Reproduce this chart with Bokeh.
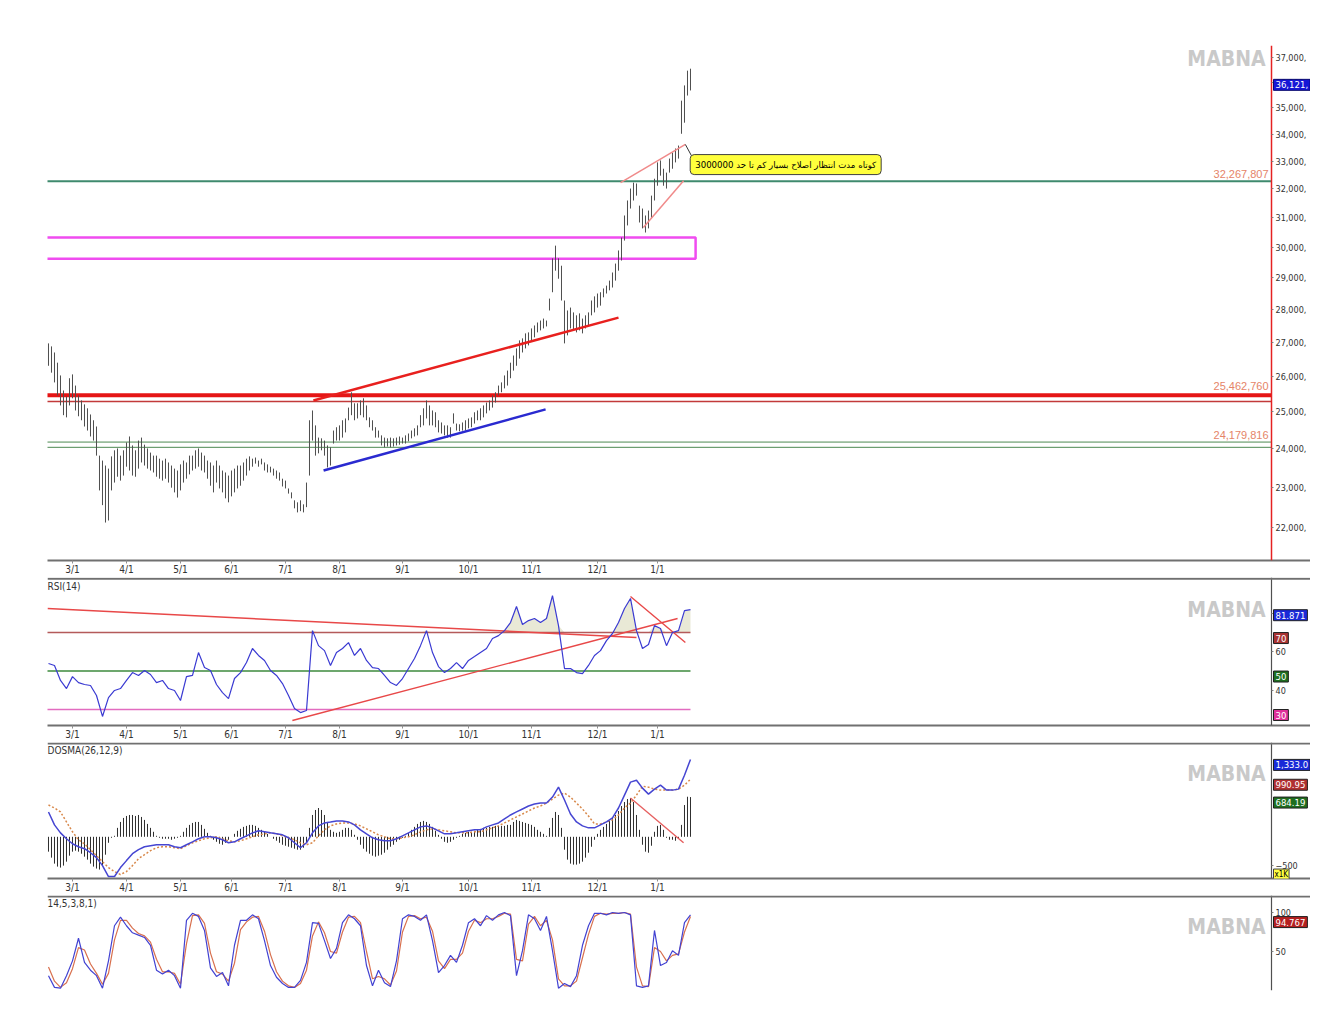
import numpy as np
from bokeh.plotting import figure
from bokeh.models import (Range1d, FixedTicker, Span, Label, CustomJSTickFormatter,
                          LinearAxis, LogAxis)
from bokeh.layouts import column
from bokeh.embed import file_html
from bokeh.resources import INLINE

# ---------------- data ----------------
month_ticks = [8, 26, 44, 61, 79, 97, 118, 140, 161, 183, 203]
month_labels = ["3/1", "4/1", "5/1", "6/1", "7/1", "8/1", "9/1", "10/1", "11/1", "12/1", "1/1"]

# daily bar highs / lows, in millions
price_high = [
    26.97, 26.88, 26.70, 26.40, 26.03, 25.60, 25.43, 25.95, 26.06, 25.74,
    25.46, 25.32, 25.21, 25.10, 24.93, 24.77, 24.60, 23.82, 23.69, 23.56,
    23.48, 23.80, 23.96, 24.01, 23.82, 23.96, 24.17, 24.33, 24.09, 23.96,
    24.22, 24.30, 24.11, 24.01, 23.90, 23.82, 23.82, 23.74, 23.69, 23.74,
    23.64, 23.56, 23.48, 23.43, 23.59, 23.69, 23.64, 23.82, 23.82, 23.96,
    24.01, 23.90, 23.82, 23.69, 23.64, 23.56, 23.69, 23.56, 23.43, 23.38,
    23.30, 23.43, 23.48, 23.56, 23.56, 23.64, 23.74, 23.80, 23.74, 23.77,
    23.69, 23.74, 23.64, 23.59, 23.53, 23.48, 23.43, 23.38, 23.22, 23.17,
    22.97, 22.87, 22.67, 22.62, 22.67, 22.57, 23.12, 24.77, 25.04, 24.63,
    24.30, 24.28, 24.22, 24.09, 24.04, 24.49, 24.58, 24.63, 24.77, 24.82,
    25.12, 25.55, 25.24, 25.24, 25.32, 25.38, 25.18, 24.85, 24.77, 24.58,
    24.49, 24.36, 24.30, 24.28, 24.30, 24.28, 24.30, 24.33, 24.30, 24.36,
    24.41, 24.49, 24.55, 24.63, 24.91, 25.10, 25.32, 25.18, 25.04, 24.99,
    24.77, 24.71, 24.63, 24.63, 24.58, 24.96, 24.68, 24.66, 24.71, 24.77,
    24.82, 24.85, 24.99, 25.04, 25.10, 25.18, 25.26, 25.32, 25.46, 25.55,
    25.74, 25.83, 26.03, 26.17, 26.40, 26.61, 26.82, 27.06, 27.12, 27.27,
    27.30, 27.42, 27.51, 27.60, 27.66, 27.72, 27.66, 28.34, 29.63, 30.05,
    29.63, 29.39, 28.28, 27.97, 28.06, 27.91, 27.82, 27.88, 27.72, 27.82,
    27.91, 28.28, 28.41, 28.50, 28.54, 28.66, 28.75, 28.91, 29.17, 29.46,
    29.89, 30.32, 31.07, 31.59, 32.01, 32.22, 32.19, 31.41, 31.31, 31.07,
    31.24, 31.76, 32.36, 32.95, 33.02, 32.72, 32.58, 33.09, 33.31, 33.46,
    33.57, 35.28, 35.88, 36.47, 36.55]
price_low = [
    26.31, 26.11, 25.83, 25.46, 25.18, 24.91, 24.85, 25.18, 25.38, 25.04,
    24.88, 24.77, 24.60, 24.49, 24.33, 24.22, 23.82, 22.92, 22.55, 22.12,
    22.17, 22.92, 23.12, 23.27, 23.17, 23.30, 23.53, 23.43, 23.30, 23.27,
    23.48, 23.64, 23.56, 23.48, 23.43, 23.38, 23.27, 23.22, 23.17, 23.22,
    23.12, 22.99, 22.87, 22.74, 22.92, 23.12, 23.22, 23.33, 23.43, 23.48,
    23.53, 23.43, 23.38, 23.22, 23.04, 22.87, 23.12, 22.97, 22.87, 22.72,
    22.62, 22.77, 22.87, 22.97, 23.04, 23.17, 23.30, 23.43, 23.53, 23.61,
    23.53, 23.59, 23.43, 23.38, 23.38, 23.30, 23.22, 23.17, 23.02, 22.97,
    22.84, 22.72, 22.47, 22.37, 22.40, 22.37, 22.50, 23.30, 24.22, 23.82,
    23.88, 23.96, 23.82, 23.51, 23.56, 24.14, 24.22, 24.22, 24.30, 24.44,
    24.77, 24.91, 24.77, 24.82, 24.91, 24.85, 24.77, 24.58, 24.49, 24.30,
    24.30, 24.09, 24.04, 24.06, 24.04, 24.06, 24.09, 24.11, 24.14, 24.14,
    24.20, 24.28, 24.33, 24.36, 24.58, 24.63, 24.82, 24.63, 24.63, 24.58,
    24.44, 24.41, 24.36, 24.30, 24.30, 24.68, 24.49, 24.47, 24.49, 24.49,
    24.55, 24.58, 24.68, 24.77, 24.77, 24.85, 24.96, 25.04, 25.12, 25.26,
    25.46, 25.55, 25.66, 25.74, 25.95, 26.17, 26.31, 26.52, 26.70, 26.82,
    26.91, 27.06, 27.15, 27.30, 27.36, 27.42, 27.48, 27.97, 28.54, 29.23,
    28.97, 28.28, 26.97, 27.21, 27.42, 27.36, 27.30, 27.36, 27.27, 27.42,
    27.51, 27.82, 27.91, 28.06, 28.12, 28.38, 28.50, 28.60, 28.69, 28.91,
    29.23, 29.56, 30.22, 30.73, 31.31, 31.59, 31.76, 30.83, 30.63, 30.49,
    30.63, 30.97, 31.59, 32.11, 32.47, 32.11, 32.01, 32.58, 32.72, 32.95,
    33.09, 34.01, 34.43, 35.48, 35.68]
last_price = 36.121

# horizontal levels and drawn objects on the price chart (millions)
level_resist = 32.267807
level_red = 25.462760
level_red_thin = 25.29
level_green_a = 24.179816
level_green_b = 24.04
zone_lo, zone_hi, zone_right = 29.62, 30.32, 215.7
red_trend = (88.3, 25.32, 190.0, 27.75)
blue_trend = (91.7, 23.43, 165.7, 25.07)
wedge_up = (190.7, 32.22, 212.3, 33.61)
wedge_lo = (198.3, 30.66, 211.7, 32.29)
note_text = "کوتاه مدت انتظار اصلاح بسیار کم تا حد 3000000"

# RSI(14), every second bar
rsi = [53.9, 52.9, 45.1, 40.9, 47.1, 44.0, 43.0, 42.5, 37.3, 26.4,
       36.2, 39.9, 40.9, 45.1, 49.2, 47.7, 50.3, 48.2, 44.0, 45.1,
       40.9, 39.9, 34.7, 47.1, 47.7, 59.6, 51.8, 50.3, 43.0, 38.8,
       35.7, 46.1, 49.2, 54.4, 61.7, 58.1, 55.5, 50.3, 47.7, 43.5,
       37.3, 30.5, 28.4, 29.5, 71.0, 63.2, 60.6, 52.9, 59.6, 61.7,
       64.8, 58.1, 61.7, 55.5, 51.8, 51.3, 47.7, 44.0, 42.5, 46.1,
       51.3, 56.5, 63.2, 71.0, 59.6, 52.3, 49.2, 51.3, 54.4, 51.3,
       55.5, 57.5, 59.6, 61.7, 66.9, 68.4, 71.0, 75.2, 83.5, 74.2,
       76.2, 77.3, 75.2, 77.3, 89.2, 73.6, 51.3, 51.3, 49.2, 48.7,
       52.9, 58.1, 60.6, 65.8, 69.5, 75.2, 82.5, 87.7, 71.0, 61.7,
       63.8, 73.6, 72.1, 63.2, 70.0, 71.0, 81.4, 81.871]
rsi_down = (-0.33, 82.5, 196.0, 67.4)
rsi_up = (81.3, 24.3, 209.7, 77.3)
rsi_down2 = (194.0, 88.7, 212.3, 64.8)

# DOSMA(26,12,9) in thousands
dosma_fast = [428, 205, 68, -34, -120, -171, -205, -274, -359, -496,
              -684, -684, -530, -410, -291, -222, -171, -154, -137, -137,
              -137, -171, -188, -137, -86, -34, 0, 0, -17, -51,
              -103, -86, -34, 17, 68, 103, 86, 68, 51, 34,
              -17, -103, -188, -103, 68, 188, 239, 256, 274, 274,
              256, 205, 120, 51, -17, -51, -68, -68, -34, 17,
              68, 120, 171, 188, 154, 103, 51, 51, 68, 86,
              103, 120, 120, 171, 205, 239, 308, 376, 428, 479,
              530, 564, 581, 581, 684, 855, 633, 393, 256, 188,
              154, 154, 205, 256, 325, 496, 718, 941, 975, 838,
              735, 821, 889, 804, 804, 821, 1060, 1333.0]
dosma_slow = [547, 496, 428, 256, 86, -51, -120, -222, -325, -428,
              -530, -599, -650, -599, -496, -376, -308, -239, -188, -171,
              -171, -188, -205, -154, -103, -68, -34, -17, 0, -34,
              -68, -86, -68, -34, 0, 34, 51, 68, 51, 17,
              -17, -51, -103, -137, -103, 17, 120, 188, 222, 239,
              239, 222, 188, 137, 86, 34, 0, -34, -34, -17,
              0, 34, 86, 120, 137, 120, 103, 86, 68, 68,
              68, 86, 86, 120, 154, 188, 239, 291, 342, 393,
              445, 496, 530, 581, 650, 718, 752, 684, 581, 479,
              359, 222, 222, 256, 291, 376, 496, 581, 718, 872,
              855, 821, 804, 804, 804, 821, 889, 990.95]
dosma_hist = [
    -256, -359, -462, -513, -530, -496, -428, -325, -256, -239,
    -256, -291, -342, -393, -462, -513, -547, -564, -496, -308,
    -103, -17, 17, 154, 256, 325, 359, 376, 376, 359,
    376, 342, 291, 222, 154, 86, 17, -17, -34, -34,
    -34, -51, -34, -17, 17, 86, 154, 205, 239, 256,
    256, 205, 137, 68, 17, -51, -86, -120, -137, -103,
    -51, 0, 51, 103, 137, 171, 188, 205, 205, 188,
    154, 120, 86, 51, 0, -34, -68, -103, -137, -154,
    -171, -188, -205, -222, -222, -188, -103, 154, 376, 462,
    496, 462, 376, 256, 120, 86, 68, 86, 120, 154,
    154, 120, 34, -51, -137, -205, -256, -291, -325, -342,
    -325, -308, -274, -222, -171, -137, -86, -51, -17, 17,
    68, 120, 171, 222, 256, 274, 256, 222, 171, 103,
    34, -34, -86, -103, -86, -51, -17, 17, 51, 68,
    86, 86, 103, 120, 137, 154, 154, 171, 171, 188,
    188, 188, 188, 205, 205, 256, 291, 274, 256, 239,
    222, 205, 171, 120, 86, 51, 17, 154, 325, 428,
    376, 154, -222, -393, -462, -479, -479, -462, -428, -359,
    -274, -171, -51, 51, 120, 171, 222, 274, 325, 376,
    445, 530, 599, 650, 667, 599, 376, 120, -137, -256,
    -274, -154, 86, 188, 205, 120, -17, -51, -51, -68,
    -34, 205, 547, 690, 684.19]
dosma_trend = (194.0, 667, 211.7, -103)

# Stochastic (14,5,3,8,1), every second bar
stoch_k = [19, 4, 3, 19, 38, 67, 36, 26, 19, 3,
           38, 83, 94, 83, 74, 71, 68, 58, 26, 21,
           26, 19, 3, 90, 99, 95, 77, 29, 18, 23,
           6, 58, 90, 90, 97, 92, 64, 32, 17, 9,
           4, 4, 13, 36, 87, 86, 64, 41, 54, 87,
           97, 92, 83, 32, 6, 26, 10, 5, 38, 92,
           97, 95, 90, 97, 64, 23, 32, 45, 36, 58,
           87, 92, 83, 96, 90, 97, 100, 96, 19, 51,
           97, 92, 77, 95, 51, 3, 9, 5, 19, 58,
           83, 99, 99, 97, 100, 99, 100, 97, 6, 4,
           6, 77, 32, 36, 51, 45, 87, 97]
stoch_d = [30, 12, 4, 10, 28, 55, 52, 34, 22, 8,
           22, 65, 90, 90, 80, 73, 70, 62, 40, 24,
           24, 22, 8, 60, 96, 97, 86, 48, 24, 21,
           12, 35, 78, 88, 94, 95, 76, 46, 24, 12,
           6, 4, 9, 26, 70, 88, 74, 50, 48, 75,
           94, 95, 87, 50, 15, 18, 15, 7, 25, 75,
           95, 96, 92, 94, 76, 38, 28, 40, 40, 48,
           76, 90, 87, 92, 92, 95, 99, 98, 40, 38,
           85, 95, 83, 90, 65, 15, 6, 6, 12, 42,
           72, 95, 99, 98, 99, 99, 100, 98, 30, 6,
           5, 55, 50, 38, 45, 47, 75, 94.767]

# ---------------- drawing ----------------
bar_x = np.arange(len(price_high))
ind_x = np.arange(0, len(price_high), 2)

FONT = "'Liberation Sans Narrow', 'DejaVu Sans Condensed', 'Liberation Sans', sans-serif"
W = 1310
XAXIS = 407.67          # where the price / indicator scale is drawn
xr = Range1d(-0.33, 420.67)


def make_fig(h, yr, top, bottom, ylog=False, xaxis=True):
    p = figure(width=W, height=h, x_range=xr, y_range=yr, title=None,
               y_axis_type="log" if ylog else "linear",
               y_axis_location=None, x_axis_location="below" if xaxis else None,
               toolbar_location=None, output_backend="svg",
               min_border_left=47, min_border_right=0,
               min_border_top=top, min_border_bottom=bottom)
    p.grid.visible = False
    p.outline_line_color = None
    p.background_fill_color = "white"
    p.border_fill_color = "white"
    if xaxis:
        xa = p.xaxis[0]
        xa.ticker = FixedTicker(ticks=month_ticks)
        xa.major_label_overrides = {t: l for t, l in zip(month_ticks, month_labels)}
        xa.axis_line_color = "#707070"
        xa.axis_line_width = 2
        xa.major_tick_in = 0
        xa.major_tick_out = 3
        xa.major_tick_line_color = "#909090"
        xa.minor_tick_line_color = None
        xa.major_label_text_font = FONT
        xa.major_label_text_font_size = "10px"
        xa.major_label_text_color = "#333333"
        xa.major_label_standoff = 0
    return p


def right_axis(p, ticks, log=False, color="#505050", width=1.2, formatter=None):
    cls = LogAxis if log else LinearAxis
    ax = cls(fixed_location=XAXIS, ticker=FixedTicker(ticks=ticks))
    if formatter is not None:
        ax.formatter = formatter
    ax.axis_line_color = color
    ax.axis_line_width = width
    ax.major_tick_out = 2
    ax.major_tick_in = 0
    ax.major_tick_line_color = "#808080"
    ax.minor_tick_line_color = None
    ax.major_label_text_font = FONT
    ax.major_label_text_font_size = "9px"
    ax.major_label_text_color = "#333333"
    ax.major_label_standoff = 2
    p.add_layout(ax, "right")
    return ax


def watermark(p, y):
    p.add_layout(Label(x=405.7, y=y, text="MABNA", text_align="right", text_baseline="top",
                       text_color="#c9c9c9", text_font=FONT, text_font_style="bold",
                       text_font_size="21px"))


def panel_title(p, y, txt):
    p.add_layout(Label(x=-0.33, y=y, text=txt, text_align="left", text_baseline="top",
                       text_color="#333333", text_font=FONT, text_font_size="10px"))


def axis_box(p, y, txt, bg, fg="white", baseline="top", border="#202020", size="9.5px", pad=2):
    p.add_layout(Label(x=XAXIS, y=y, x_offset=2, text=txt, text_align="left",
                       text_baseline=baseline, text_color=fg, text_font=FONT,
                       text_font_size=size, background_fill_color=bg,
                       border_line_color=border, border_line_width=1, padding=pad))


def hline(p, y, color, width):
    p.segment(x0=[-1], y0=[y], x1=[XAXIS], y1=[y], line_color=color, line_width=width)


# ---- main price panel ----
p1 = make_fig(577, Range1d(21.21, 37.50), 45, 17, ylog=True)
right_axis(p1, list(range(22, 38)), log=True, color="#e52222", width=1.5,
           formatter=CustomJSTickFormatter(
               code="return Math.round(tick*1000).toLocaleString('en-US') + ',';"))

hline(p1, level_resist, "#3f8a6e", 2)
hline(p1, level_red_thin, "#c23a3a", 1.3)
hline(p1, level_red, "#e51515", 4)
hline(p1, level_green_a, "#4d8a52", 1)
hline(p1, level_green_b, "#4d8a52", 1)

p1.quad(left=-2, right=zone_right, bottom=zone_lo, top=zone_hi, fill_color=None,
        line_color="#f04cf0", line_width=2.5)

p1.segment(x0=bar_x, y0=price_low, x1=bar_x, y1=price_high, line_color="#4e4e4e", line_width=1)

for (x0, y0, x1, y1), col, lw in [(red_trend, "#e8201e", 2.5), (blue_trend, "#2a2ad0", 2.5),
                                  (wedge_up, "#f08a8a", 1.5), (wedge_lo, "#f08a8a", 1.5)]:
    p1.segment(x0=[x0], y0=[y0], x1=[x1], y1=[y1], line_color=col, line_width=lw)

# callout pointing at the wedge tip
p1.line(x=[wedge_up[2], 214.2], y=[wedge_up[3], 33.22], line_color="#333333", line_width=1)
p1.add_layout(Label(x=213.9, y=32.87, text=note_text, text_align="left", text_baseline="middle",
                    text_color="#000000", text_font="'DejaVu Sans', sans-serif",
                    text_font_size="8.6px", background_fill_color="#ffff3c",
                    border_line_color="#404040", border_line_width=1, padding=5,
                    border_radius=4))

for yv, txt in [(32.37, "32,267,807"), (25.60, "25,462,760"), (24.25, "24,179,816")]:
    p1.add_layout(Label(x=406.7, y=yv, text=txt, text_align="right", text_baseline="bottom",
                        text_color="#e58468", text_font="'Liberation Sans', sans-serif",
                        text_font_size="11px"))

watermark(p1, 37.45)
axis_box(p1, last_price, "36,121,", "#1616d6", baseline="top", border="#0a0a70")

# ---- RSI panel ----
p2 = make_fig(165, Range1d(21.7, 98.6), 0, 17)
right_axis(p2, [40, 60, 80])
p2.add_layout(Span(location=98.0, dimension="width", line_color="#707070", line_width=2))
rsi_arr = np.array(rsi)
p2.varea(x=ind_x, y1=70, y2=np.maximum(rsi_arr, 70), fill_color="#e9e9d6")
p2.segment(x0=[-1, -1, -1], y0=[70, 50, 30], x1=[214, 214, 214], y1=[70, 50, 30],
           line_color=["#b45a5a", "#3c8a3c", "#e26cc0"], line_width=1.5)
for (x0, y0, x1, y1) in [rsi_down, rsi_up, rsi_down2]:
    p2.segment(x0=[x0], y0=[y0], x1=[x1], y1=[y1], line_color="#e84848", line_width=1.4)
p2.line(ind_x, rsi, line_color="#3a3ad2", line_width=1.2)
panel_title(p2, 97.0, "RSI(14)")
watermark(p2, 88.2)
axis_box(p2, 81.871, "81.871", "#1a2ad8")
axis_box(p2, 70, "70", "#a83232")
axis_box(p2, 50, "50", "#1f6e1f")
axis_box(p2, 30, "30", "#e0309a")

# ---- DOSMA panel ----
p3 = make_fig(153, Range1d(-718, 1624), 0, 16)
right_axis(p3, [-500])
p3.add_layout(Span(location=1607, dimension="width", line_color="#707070", line_width=2))
p3.segment(x0=bar_x, y0=0, x1=bar_x, y1=dosma_hist, line_color="#2e2e2e", line_width=1)
p3.line(ind_x, dosma_slow, line_color="#d8884a", line_width=1.5, line_dash="2 2")
p3.line(ind_x, dosma_fast, line_color="#4646d2", line_width=1.5)
p3.segment(x0=[dosma_trend[0]], y0=[dosma_trend[1]], x1=[dosma_trend[2]], y1=[dosma_trend[3]],
           line_color="#e66060", line_width=1.4)
panel_title(p3, 1573, "DOSMA(26,12,9)")
watermark(p3, 1282)
axis_box(p3, 1333.0, "1,333.0", "#1a2ad8")
axis_box(p3, 990.95, "990.95", "#b03030")
axis_box(p3, 684.19, "684.19", "#1f6e1f")
axis_box(p3, -555, "x1K", "#ffff40", fg="#000000", border="#404040", size="8px", pad=1)

# ---- Stochastic panel ----
p4 = make_fig(115, Range1d(0, 121.8), 0, 20, xaxis=False)
right_axis(p4, [50, 100])
p4.add_layout(Span(location=120.5, dimension="width", line_color="#707070", line_width=2))
p4.line(ind_x, stoch_d, line_color="#d8704e", line_width=1.2)
p4.line(ind_x, stoch_k, line_color="#4242d2", line_width=1.2)
panel_title(p4, 118.0, "14,5,3,8,1)")
watermark(p4, 97.4)
axis_box(p4, 94.767, "94.767", "#b42020")

layout = column(p1, p2, p3, p4)
open("out.html", "w").write(file_html(layout, INLINE))
